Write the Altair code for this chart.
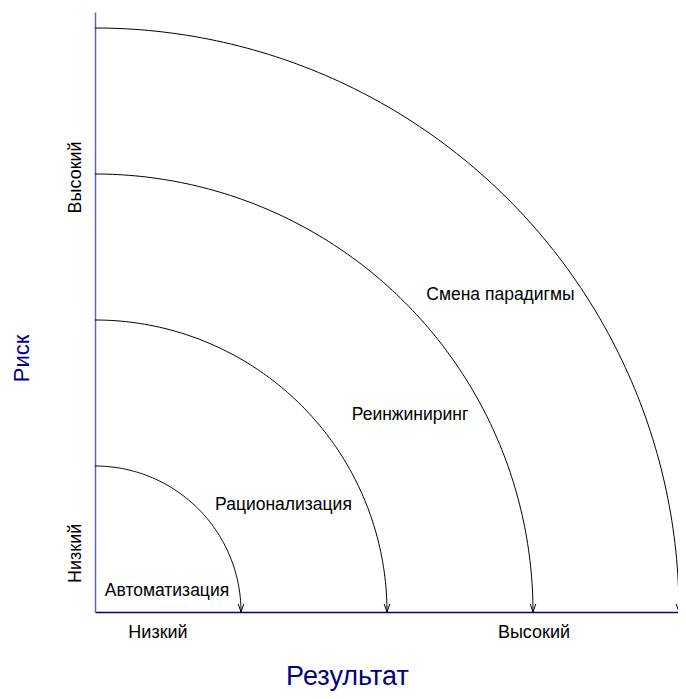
import altair as alt
import numpy as np
import pandas as pd

# --- data ---
radii = [1, 2, 3, 4]
arc_labels = ["Автоматизация", "Рационализация", "Реинжиниринг", "Смена парадигмы"]
label_x = [0.493, 1.291, 2.158, 2.777]
label_y = [0.11, 0.70, 1.315, 2.137]
x_tick_values = [0.428, 3.003]
y_tick_values = [0.405, 2.98]
tick_labels = ["Низкий", "Высокий"]

X_MAX = 583 / 146
Y_MAX = 600 / 146

# quarter-circle outlines built from the radii
angles = np.linspace(0, np.pi / 2, 121)
rows = []
for r in radii:
    for i, a in enumerate(angles):
        rows.append({"r": r, "i": i, "x": r * np.cos(a), "y": r * np.sin(a)})
arcs_df = pd.DataFrame(rows)
arrows_df = pd.DataFrame({"x": radii, "y": [0] * len(radii)})
labels_df = pd.DataFrame({"x": label_x, "y": label_y, "t": arc_labels})

xs = alt.Scale(domain=[0, X_MAX], nice=False, zero=False)
ys = alt.Scale(domain=[0, Y_MAX], nice=False, zero=False)

label_expr = f"datum.value < 1 ? '{tick_labels[0]}' : '{tick_labels[1]}'"

x_axis = alt.Axis(
    values=x_tick_values, labelExpr=label_expr, ticks=False, grid=False,
    domainColor="#000080", domainWidth=1.5, labelFont="Liberation Sans",
    labelFontSize=18, labelColor="black", labelPadding=11, labelFlush=False,
    title="Результат", titleFont="Liberation Sans", titleFontSize=27,
    titleFontWeight="normal", titleColor="#000080", titleX=252, titleY=72,
    titleAlign="center", titleBaseline="alphabetic",
)
y_axis = alt.Axis(
    values=y_tick_values, labelExpr=label_expr, ticks=False, grid=False,
    domainColor="#6262b8", domainWidth=1.5, labelFont="Liberation Sans",
    labelFontSize=18, labelColor="black", labelAngle=-90, labelPadding=15,
    labelAlign="center", labelBaseline="alphabetic", labelFlush=False,
    title="Риск", titleFont="Liberation Sans", titleFontSize=22,
    titleFontWeight="normal", titleColor="#000080", titleX=-67, titleY=346,
    titleAngle=-90, titleAlign="center", titleBaseline="alphabetic",
)

X = alt.X("x:Q", scale=xs, axis=x_axis)
Y = alt.Y("y:Q", scale=ys, axis=y_axis)

arcs = alt.Chart(arcs_df).mark_line(color="black", strokeWidth=1, clip=False).encode(
    x=X, y=Y, detail="r:N", order="i:Q",
)

arrows = alt.Chart(arrows_df).mark_point(
    shape="M-0.35,-1L0,0L0.35,-1", size=256, filled=False, color="black",
    strokeWidth=1, opacity=1, clip=False,
).encode(x=X, y=Y)

texts = alt.Chart(labels_df).mark_text(
    font="Liberation Sans", fontSize=17.5, color="black", align="center",
    baseline="alphabetic",
).encode(x=X, y=Y, text="t:N")

chart = (
    alt.layer(arcs, arrows, texts)
    .properties(
        width=583, height=600, autosize=alt.AutoSizeParams(type="none"),
        padding={"left": 87, "top": 4, "right": 0, "bottom": 79},
        background="white",
    )
    .configure_view(stroke=None, strokeWidth=0)
)

chart.save("out.html", embed_options={"renderer": "svg", "actions": False})
